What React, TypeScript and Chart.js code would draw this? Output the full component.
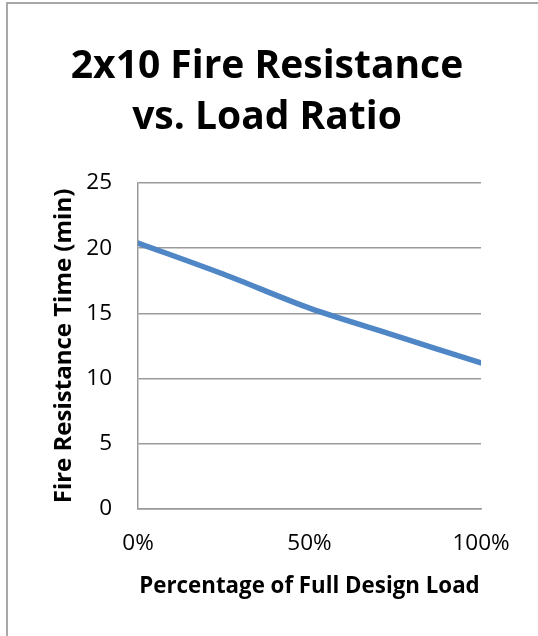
import React, { useEffect, useRef } from "react";
import { Chart, registerables } from "chart.js";

Chart.register(...registerables);

const loadFractions = [0, 0.25, 0.5, 0.75, 1.0];
const fireTimes = [20.4, 18.0, 15.4, 13.3, 11.2];
const xTickValues = [0, 0.5, 1];
const yTickValues = [0, 5, 10, 15, 20, 25];
const titleLines = ["2x10 Fire Resistance", "vs. Load Ratio"];
const xAxisTitle = "Percentage of Full Design Load";
const yAxisTitle = "Fire Resistance Time (min)";

const FONT = "'Open Sans', Lato, sans-serif";
const W = 538;
const H = 636;

export default function App() {
  const ref = useRef<HTMLCanvasElement | null>(null);

  useEffect(() => {
    if (!ref.current) return;
    const chart = new Chart(ref.current, {
      type: "line",
      data: {
        datasets: [
          {
            data: loadFractions.map((x, i) => ({ x, y: fireTimes[i] })),
            borderColor: "#4F86C6",
            borderWidth: 5.5,
            pointRadius: 0,
            tension: 0.3,
            fill: false,
            borderCapStyle: "round",
          },
        ],
      },
      options: {
        animation: false,
        responsive: false,
        devicePixelRatio: 1,
        layout: { padding: { left: 53, right: 57, top: 0, bottom: 0 } },
        plugins: {
          legend: { display: false },
          tooltip: { enabled: false },
          title: {
            display: true,
            text: titleLines,
            color: "#000",
            font: { family: FONT, size: 39, weight: "bold", lineHeight: 51 / 39 },
            padding: { top: 41, bottom: 40 },
          },
        },
        scales: {
          x: {
            type: "linear",
            min: 0,
            max: 1,
            afterBuildTicks: (scale: any) => {
              scale.ticks = xTickValues.map((v) => ({ value: v }));
            },
            afterFit: (scale: any) => {
              scale.height = 127;
            },
            ticks: {
              color: "#000",
              font: { family: FONT, size: 22.5 },
              padding: 21,
              maxRotation: 0,
              autoSkip: false,
              callback: (v: any) => Math.round(Number(v) * 100) + "%",
            },
            grid: { display: false, drawTicks: false },
            border: { display: true, color: "#9a9a9a", width: 1.5 },
            title: {
              display: true,
              text: xAxisTitle,
              color: "#000",
              font: { family: FONT, size: 22.3, weight: "bold" },
              padding: { top: 0, bottom: 36 },
            },
          },
          y: {
            min: 0,
            max: 25,
            afterBuildTicks: (scale: any) => {
              scale.ticks = yTickValues.map((v) => ({ value: v }));
            },
            afterFit: (scale: any) => {
              scale.width = 85;
            },
            ticks: {
              color: "#000",
              font: { family: FONT, size: 22.5 },
              padding: 26,
              autoSkip: false,
            },
            grid: { color: "#9a9a9a", lineWidth: 1.5, drawTicks: false },
            border: { display: true, color: "#9a9a9a", width: 1.5 },
            title: {
              display: true,
              text: yAxisTitle,
              color: "#000",
              font: { family: FONT, size: 24, weight: "bold" },
              padding: { top: -3.5, bottom: 0 },
            },
          },
        },
      },
    } as any);
    return () => chart.destroy();
  }, []);

  return (
    <div style={{ position: "fixed", left: 0, top: 0, width: W, height: H, background: "#fff" }}>
      <div
        style={{
          position: "absolute",
          left: 6,
          top: 2,
          right: 0,
          bottom: 0,
          borderLeft: "2px solid #a8a8a8",
          borderTop: "2px solid #a8a8a8",
        }}
      />
      <canvas
        ref={ref}
        width={W}
        height={H}
        style={{ position: "absolute", left: 0, top: 0, width: W, height: H }}
      />
    </div>
  );
}
